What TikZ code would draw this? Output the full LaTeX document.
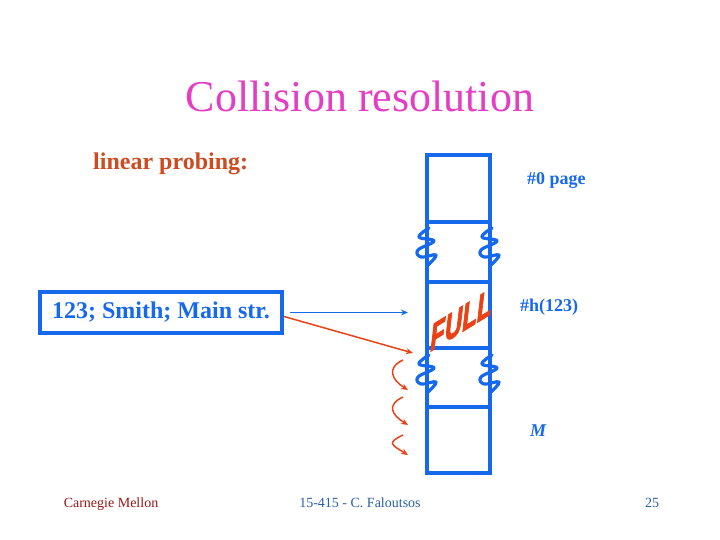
\documentclass[tikz,border=0pt]{standalone}
\usepackage{fontspec}
\setmainfont{Liberation Serif}
\newfontfamily\fullfont[FakeBold=3]{Liberation Sans Bold Italic}
\usetikzlibrary{arrows.meta, positioning, calc}
\definecolor{cTitle}{RGB}{228,62,196}
\definecolor{cBlue}{RGB}{22,104,236}
\definecolor{cRed}{RGB}{232,66,22}
\definecolor{cOrange}{RGB}{206,74,32}
\definecolor{cCMU}{RGB}{150,22,22}
\definecolor{cFoot}{RGB}{42,96,164}
\tikzset{
	cell/.style   ={rectangle, draw=cBlue, line width=4pt, minimum width=63pt, outer sep=0pt, inner sep=0pt},
	rec/.style    ={rectangle, draw=cBlue, line width=4pt, minimum width=242pt, minimum height=41pt, text=cBlue, font=\fontsize{24}{26}\selectfont\bfseries},
	lbl/.style    ={text=cBlue, font=\fontsize{18}{20}\selectfont\bfseries, anchor=base west, inner sep=0pt},
	foot/.style   ={font=\fontsize{14}{16}\selectfont, anchor=base, inner sep=0pt},
	ptr/.style    ={-{Stealth[length=7pt,width=6pt]}, line width=1.5pt},
	% break marks on the page column
	brk/.style    ={draw=cBlue, line width=3.2pt, line cap=round, line join=round},
	squig/.pic    ={\draw[brk] plot[smooth, tension=0.7] coordinates {(2,0) (-8,-9) (7,-13) (-9,-22) (-6,-29) (9,-27) (1,-37)};},
}

\begin{document}
\begin{tikzpicture}[x=1pt, y=1pt]
	\useasboundingbox (0,0) rectangle (720,540);
	\node[text=cTitle, font=\fontsize{44}{48}\selectfont, anchor=base] (title) at (360,428) {Collision resolution};
	\node[text=cOrange, font=\fontsize{24}{26}\selectfont\bfseries, anchor=base west, inner sep=0pt] (probe) at (93,370) {linear probing:};

	% the pages
	\node[cell, minimum height=67pt] (c0) at (458.5,351.5) {};
	\node[cell, minimum height=60pt, below=0pt of c0] (c1) {};
	\node[cell, minimum height=66pt, below=0pt of c1] (c2) {};
	\node[cell, minimum height=59pt, below=0pt of c2] (c3) {};
	\node[cell, minimum height=66pt, below=0pt of c3] (c4) {};
	\pic at ([yshift=-6pt]c1.north west) {squig};
	\pic at ([yshift=-6pt]c1.north east) {squig};
	\pic at ([yshift=-7pt]c3.north west) {squig};
	\pic at ([yshift=-7pt]c3.north east) {squig};
	\node[text=cRed, font=\fullfont\fontsize{24}{24}\selectfont, yslant=0.62, yscale=1.55, inner sep=0pt] (full) at (461,220) {FULL};

	\node[lbl] (lblzero) at (527,355) {\#0 page};
	\node[lbl] (lblh) at (520,228) {\#h(123)};
	\node[lbl, font=\fontsize{18}{20}\selectfont\bfseries\itshape] (lblm) at (530,103) {M};

	% the record
	\node[rec] (rec) at (161,227.5) {123; Smith; Main str.};
	\draw[ptr, cBlue] ([xshift=6pt]rec.east) -- ([xshift=-19pt]rec.east -| c2.west);
	\coordinate (hit) at ([xshift=-14pt,yshift=-5pt]c3.north west);
	\draw[ptr, cRed] ([yshift=-4pt]rec.east) -- (hit);
	\foreach \i/\a/\b in {1/180/150, 2/143/115, 3/105/85} {
		\coordinate (w\i) at (403,\a);
		\coordinate (v\i) at (408,\b);
		\draw[ptr, cRed] (w\i) .. controls ($(w\i)+(-17,-8)$) and ($(v\i)+(-16,10)$) .. (v\i);
	}

	\node[foot, text=cCMU] (cmu) at (111,32) {Carnegie Mellon};
	\node[foot, text=cFoot] (course) at (360,32) {15-415 - C. Faloutsos};
	\node[foot, text=cFoot] (pgno) at (652,32) {25};
\end{tikzpicture}
\end{document}
